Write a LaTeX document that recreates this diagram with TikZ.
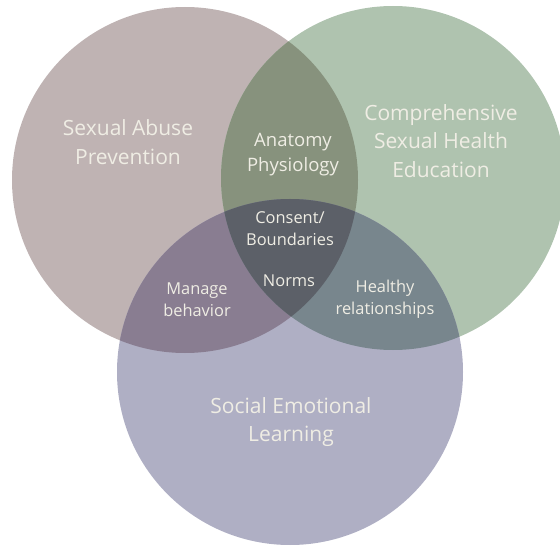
\documentclass[tikz,border=0pt]{standalone}
\usepackage{fontspec}
\setmainfont{Open Sans}
\usepackage{tikz}

\definecolor{sapfill}{HTML}{BFB3B3}
\definecolor{cshefill}{HTML}{AFC3AF}
\definecolor{selfill}{HTML}{AFAFC4}
\definecolor{sapcshe}{HTML}{87927D}
\definecolor{sapsel}{HTML}{897D91}
\definecolor{cshesel}{HTML}{78868D}
\definecolor{allthree}{HTML}{5C6068}
\definecolor{labtext}{HTML}{EFEDE4}

\begin{document}
\begin{tikzpicture}[x=1pt,y=-1pt,
	big/.style={text=labtext, align=center, inner sep=0pt, font=\fontsize{21}{28.5}\selectfont},
	small/.style={text=labtext, align=center, inner sep=0pt, font=\fontsize{16.4}{22}\selectfont}]
	\useasboundingbox (0,0) rectangle (560,548);

	\coordinate (sap) at (185,180);
	\coordinate (cshe) at (393,178);
	\coordinate (sel) at (290,372);

	% the three circles
	\fill [sapfill] (sap) circle (173pt);
	\fill [cshefill] (cshe) circle (172pt);
	\fill [selfill] (sel) circle (173pt);

	% pairwise overlaps
	\begin{scope}
		\clip (sap) circle (173pt);
		\fill [sapcshe] (cshe) circle (172pt);
		\fill [sapsel] (sel) circle (173pt);
	\end{scope}
	\begin{scope}
		\clip (cshe) circle (172pt);
		\fill [cshesel] (sel) circle (173pt);
		\clip (sel) circle (173pt);
		\fill [allthree] (sap) circle (173pt);
	\end{scope}

	\node [big] (sapname) at (128,142) {Sexual Abuse\\Prevention};
	\node [big] (cshename) at (441,141) {Comprehensive\\Sexual Health\\Education};
	\node [big] (selname) at (291,422) {Social Emotional\\Learning};

	\node [small, font=\fontsize{18.5}{25}\selectfont] (anatomy) at (293,155) {Anatomy\\Physiology};
	\node [small] (consent) at (290,229) {Consent/\\Boundaries};
	\node [small] (norms) at (289,281) {Norms};
	\node [small] (manage) at (197,300) {Manage\\behavior};
	\node [small] (healthy) at (385,299) {Healthy\\relationships};
\end{tikzpicture}
\end{document}
